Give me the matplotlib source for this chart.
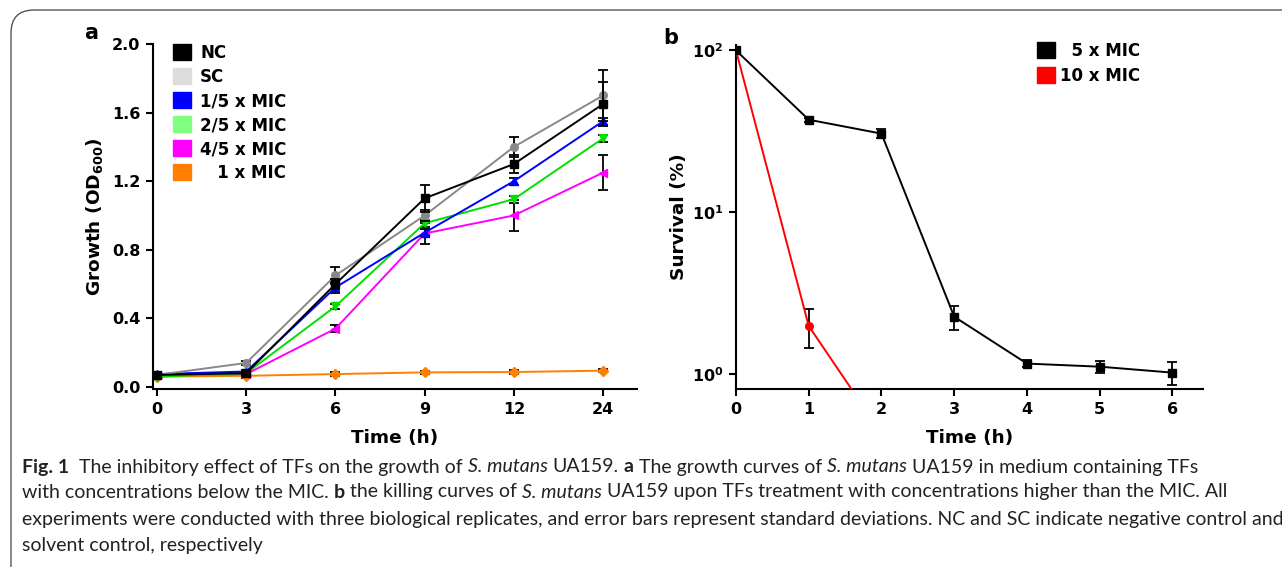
import matplotlib
matplotlib.use("Agg")
import matplotlib.pyplot as plt
import numpy as np
from matplotlib.patches import Patch, FancyBboxPatch
from matplotlib.ticker import FixedLocator, FuncFormatter, NullLocator
from matplotlib import font_manager as fm

plt.rcParams['font.family'] = ['DejaVu Sans']
plt.rcParams['font.weight'] = 'bold'
plt.rcParams['mathtext.fontset'] = 'custom'
plt.rcParams['mathtext.bf'] = 'DejaVu Sans:bold'
plt.rcParams['mathtext.rm'] = 'DejaVu Sans:bold'
plt.rcParams['mathtext.it'] = 'DejaVu Sans:bold'

# ---------------- data: panel a ----------------
time_a_labels = ["0", "3", "6", "9", "12", "24"]
series_a_names = ["NC", "SC", "1/5 x MIC", "2/5 x MIC", "4/5 x MIC", "   1 x MIC"]
nc_vals = [0.07, 0.08, 0.60, 1.10, 1.30, 1.65]
nc_err = [0.005, 0.01, 0.03, 0.08, 0.05, 0.13]
sc_vals = [0.07, 0.14, 0.65, 1.00, 1.40, 1.70]
sc_err = [0.005, 0.01, 0.05, 0.03, 0.06, 0.15]
mic15_vals = [0.075, 0.09, 0.58, 0.90, 1.20, 1.55]
mic15_err = [0.005, 0.01, 0.03, 0.02, 0.02, 0.02]
mic25_vals = [0.06, 0.08, 0.47, 0.955, 1.095, 1.45]
mic25_err = [0.005, 0.01, 0.015, 0.02, 0.02, 0.02]
mic45_vals = [0.07, 0.075, 0.34, 0.895, 1.00, 1.25]
mic45_err = [0.005, 0.01, 0.02, 0.06, 0.09, 0.10]
mic1_vals = [0.06, 0.065, 0.075, 0.085, 0.087, 0.095]
mic1_err = [0.005, 0.01, 0.01, 0.01, 0.01, 0.01]

# ---------------- data: panel b ----------------
time_b = [0, 1, 2, 3, 4, 5, 6]
mic5_surv = [100, 37.3, 30.6, 2.26, 1.16, 1.11, 1.02]
mic5_err = [0.5, 1.0, 2.0, 0.38, 0.06, 0.1, 0.16]
time_b10 = [0, 1, 2]
mic10_surv = [100, 1.98, 0.43]
mic10_err = [0.5, 0.53, 0.0]

W, H = 1282, 567
fig = plt.figure(figsize=(W / 100, H / 100), dpi=100)

def fx(px):
    return px / W

def fy(py):
    return 1 - py / H

# ---------------- panel a ----------------
axa = fig.add_axes([fx(153), fy(389), fx(637 - 153), (389 - 44) / H])
xa = np.arange(len(time_a_labels))
line_cols = ['black', '#888888', '#0000ff', '#00e000', '#ff00ff', '#ff8000']
patch_cols = ['black', '#dcdcdc', '#0000ff', '#80ff80', '#ff00ff', '#ff8000']
markers = ['s', 'o', '^', 'v', '<', 'D']
all_vals = [nc_vals, sc_vals, mic15_vals, mic25_vals, mic45_vals, mic1_vals]
all_errs = [nc_err, sc_err, mic15_err, mic25_err, mic45_err, mic1_err]
order = [5, 4, 3, 2, 1, 0]
for i in order:
    axa.errorbar(xa, all_vals[i], yerr=all_errs[i], color=line_cols[i], marker=markers[i],
                 markersize=5.5, lw=1.4, ecolor='black', elinewidth=1.3, capsize=3.5,
                 capthick=1.3, zorder=3 + (5 - i))
axa.set_xlim(-0.045, 5.38)
axa.set_ylim(-0.012, 2.0)
axa.set_xticks(xa)
axa.set_xticklabels(time_a_labels)
axa.set_yticks([0.0, 0.4, 0.8, 1.2, 1.6, 2.0])
axa.set_yticklabels(["0.0", "0.4", "0.8", "1.2", "1.6", "2.0"])
axa.set_xlabel("Time (h)", fontsize=13.3, fontweight='bold', labelpad=9)
axa.set_ylabel(r"Growth (OD$_{\mathbf{600}}$)", fontsize=13.3, fontweight='bold', labelpad=5)
handles = [Patch(facecolor=c, edgecolor=c) for c in patch_cols]
axa.legend(handles, series_a_names, loc='upper left', bbox_to_anchor=(0.041, 1.0),
           frameon=False, prop={'weight': 'bold', 'size': 12}, handlelength=1.08,
           handleheight=1.08, labelspacing=0.36, handletextpad=0.55, borderaxespad=0,
           borderpad=0)

# ---------------- panel b ----------------
axb = fig.add_axes([fx(736), fy(389), fx(1203 - 736), (389 - 45) / H])
axb.errorbar(time_b10, mic10_surv, yerr=mic10_err, color='#ff0000', marker='o', markersize=5.5,
             lw=1.4, ecolor='black', elinewidth=1.3, capsize=3.5, capthick=1.3, zorder=3)
axb.errorbar(time_b, mic5_surv, yerr=mic5_err, color='black', marker='s', markersize=5.5,
             lw=1.4, ecolor='black', elinewidth=1.3, capsize=3.5, capthick=1.3, zorder=4)
axb.set_yscale('log')
axb.set_xlim(0, 6.42)
axb.set_ylim(0.808, 108)
axb.set_xticks(time_b)
axb.yaxis.set_major_locator(FixedLocator([1, 10, 100]))
axb.yaxis.set_minor_locator(NullLocator())
axb.yaxis.set_major_formatter(FuncFormatter(lambda v, p: r"$\mathbf{10^{%d}}$" % int(round(np.log10(v)))))
axb.set_xlabel("Time (h)", fontsize=13.3, fontweight='bold', labelpad=9)
axb.set_ylabel("Survival (%)", fontsize=13.3, fontweight='bold', labelpad=3)
handles_b = [Patch(facecolor='black', edgecolor='black'), Patch(facecolor='#ff0000', edgecolor='#ff0000')]
axb.legend(handles_b, ["  5 x MIC", "10 x MIC"], loc='upper left', bbox_to_anchor=(0.645, 1.009),
           frameon=False, prop={'weight': 'bold', 'size': 12}, handlelength=1.08,
           handleheight=1.08, labelspacing=0.42, handletextpad=0.3, borderaxespad=0,
           borderpad=0)

for ax in (axa, axb):
    for s in ('top', 'right'):
        ax.spines[s].set_visible(False)
    for s in ('left', 'bottom'):
        ax.spines[s].set_linewidth(1.5)
    ax.tick_params(axis='both', which='major', direction='out', length=5, width=1.5,
                   labelsize=11.5, pad=4)
    for lab in ax.get_xticklabels() + ax.get_yticklabels():
        lab.set_fontweight('bold')

fig.text(fx(91), fy(33), "a", fontsize=15, fontweight='bold', ha='center', va='center')
fig.text(fx(671), fy(38), "b", fontsize=15, fontweight='bold', ha='center', va='center')

# ---------------- frame ----------------
frame = FancyBboxPatch((fx(11), fy(600)), fx(1400), (600 - 10) / H,
                       boxstyle="round,pad=0,rounding_size=0.018",
                       transform=fig.transFigure, facecolor='none', edgecolor='#555555',
                       lw=1.0, clip_on=False, mutation_aspect=W / H)
fig.patches.append(frame)

# ---------------- caption ----------------
cap_lines = [
    [("Fig. 1", 'bold', 'normal'), ("  The inhibitory effect of TFs on the growth of ", 'normal', 'normal'),
     ("S. mutans", 'normal', 'italic'), (" UA159. ", 'normal', 'normal'), ("a", 'bold', 'normal'),
     (" The growth curves of ", 'normal', 'normal'), ("S. mutans", 'normal', 'italic'),
     (" UA159 in medium containing TFs", 'normal', 'normal')],
    [("with concentrations below the MIC. ", 'normal', 'normal'), ("b", 'bold', 'normal'),
     (" the killing curves of ", 'normal', 'normal'), ("S. mutans", 'normal', 'italic'),
     (" UA159 upon TFs treatment with concentrations higher than the MIC. All", 'normal', 'normal')],
    [("experiments were conducted with three biological replicates, and error bars represent standard deviations. NC and SC indicate negative control and", 'normal', 'normal')],
    [("solvent control, respectively", 'normal', 'normal')],
]
cap_y = [467, 492, 519, 546]
avail = {f.name for f in fm.fontManager.ttflist}
cap_family = [f for f in ['Liberation Sans Narrow', 'Lato'] if f in avail] + ['DejaVu Sans']
renderer = fig.canvas.get_renderer()

def text_width(s, size, weight='normal', style='normal'):
    t = fig.text(0, 0, s, fontsize=size, family=cap_family, fontweight=weight, fontstyle=style)
    w = t.get_window_extent(renderer).width
    t.remove()
    return w

target = 1278 - 22
size = 12.0
w3 = text_width(cap_lines[2][0][0], size)
size = size * target / w3

def space_w(weight, style):
    return text_width("a a", size, weight, style) - text_width("aa", size, weight, style)

for line, yy in zip(cap_lines, cap_y):
    x = 22.0
    for s, wt, st in line:
        sp = space_w(wt, st)
        lead = len(s) - len(s.lstrip(' '))
        trail = len(s) - len(s.rstrip(' '))
        x += lead * sp
        t = fig.text(fx(x), fy(yy), s.strip(), fontsize=size, family=cap_family,
                     fontweight=wt, fontstyle=st, ha='left', va='center', color='#222222')
        bb = t.get_window_extent(renderer)
        x = bb.x1 + trail * sp

fig.savefig("out.png", dpi=100)
